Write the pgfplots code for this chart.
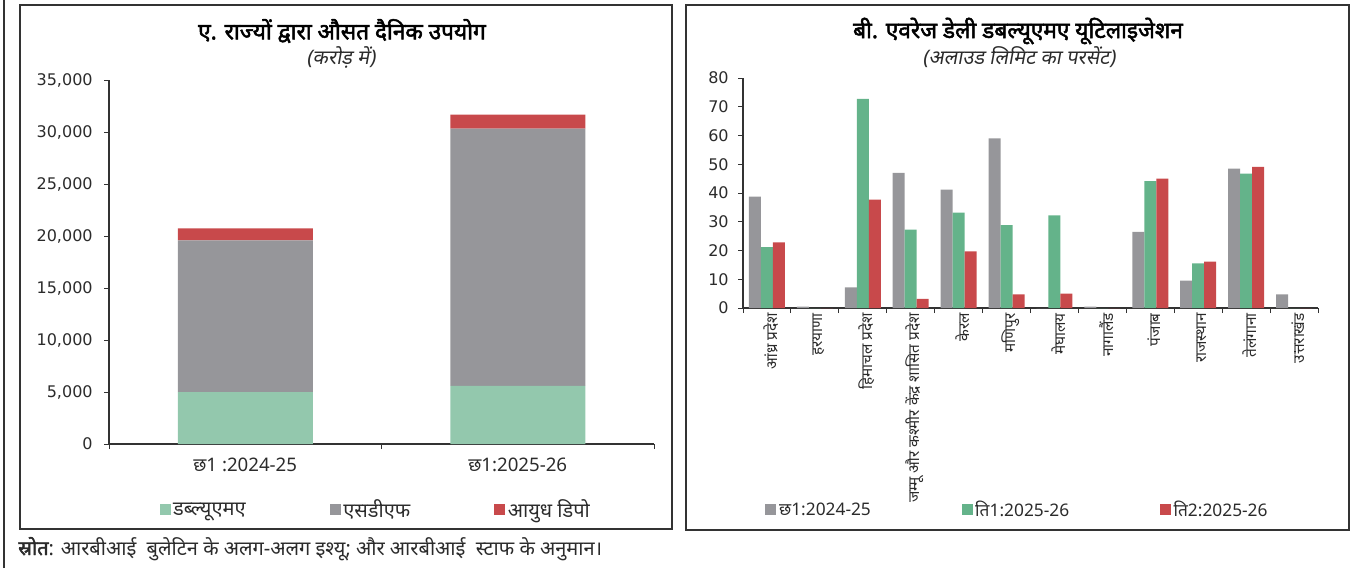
\documentclass[border=0pt]{standalone}
\usepackage{fontspec}
\usepackage{pgfplots}
\usepackage{pgfplotstable}
\pgfplotsset{compat=1.18}
\setmainfont[Script=Devanagari]{Noto Sans}
\newfontfamily\hinbf[Script=Devanagari,FakeBold=2.2]{Noto Sans}
\newfontfamily\hinsl[Script=Devanagari,FakeSlant=0.18]{Noto Sans}
\newfontfamily\dv{DejaVu Sans}

\definecolor{wmaA}{HTML}{93C8AD}
\definecolor{sdf}{HTML}{96969A}
\definecolor{depot}{HTML}{C8494B}
\definecolor{wmaB}{HTML}{64B38A}
\definecolor{rule}{HTML}{333333}
\definecolor{txt}{HTML}{2B2B2B}

% Panel A: average daily usage by states (Rs crore), stacked
\pgfplotstableread{
x    wma   sdf    depot
0.5  4980  14610  1150
1.5  5580  24740  1340
}\usage

% Panel B: average daily WMA utilisation (% of allowed limit)
\pgfplotstableread{
x     h1    q1    q2
0.5   38.7  21.2  22.8
1.5   0.5   0     0
2.5   7.2   72.7  37.7
3.5   47.0  27.3  3.2
4.5   41.2  33.2  19.7
5.5   59.0  28.8  4.7
6.5   0     32.2  5.0
7.5   0.5   0     0
8.5   26.5  44.1  45.0
9.5   9.5   15.5  16.1
10.5  48.5  46.7  49.1
11.5  4.7   0     0
}\util

\pgfplotsset{
  panel/.style={
    scale only axis,
    axis lines=left,
    axis line style={-, rule, line width=1.1pt},
    tick align=outside,
    major tick length=3.75pt,
    tick style={rule, line width=0.7pt},
    ymin=0,
    scaled y ticks=false,
    /pgf/number format/1000 sep={,},
    /pgf/number format/assume math mode=true,
    yticklabel style={font=\dv\fontsize{12}{14}\selectfont, text=txt},
    xticklabels={},
    extra x tick style={tick style={draw=none}},
    legend style={draw=none, fill=none, inner sep=0pt, legend columns=3},
  },
  squares/.style={
    legend image code/.code={\fill[##1,draw=none] (0pt,-4.1pt) rectangle (8.25pt,4.1pt);},
  },
}

\begin{document}
\begin{tikzpicture}[x=0.75pt,y=0.75pt]
\path[use as bounding box] (0,0) rectangle (1353,568);

% panel frames
\draw[rule,line width=1.1pt] (4,0) -- (4,568);
\draw[rule,line width=1.3pt] (20,563) rectangle (672,39);
\draw[rule,line width=1.3pt] (686,563) rectangle (1349,38);

% titles
\node[font=\hinbf\fontsize{17}{19}\selectfont] at (342,537) {ए. राज्यों द्वारा औसत दैनिक उपयोग};
\node[font=\hinsl\fontsize{15}{17}\selectfont, text=txt] at (341,511) {(करोड़ में)};
\node[font=\hinbf\fontsize{17}{19}\selectfont] at (1018,537) {बी. एवरेज डेली डबल्यूएमए यूटिलाइजेशन};
\node[font=\hinsl\fontsize{15}{17}\selectfont, text=txt] at (1019,511) {(अलाउड लिमिट का परसेंट)};

% Panel A
\begin{axis}[panel,
  at={(81.75pt,93pt)}, anchor=south west,
  width=408.75pt, height=273pt,
  xmin=0, xmax=2, ymax=35000,
  ytick distance=5000,
  yticklabel style={xshift=-5pt},
  xtick={0,1,2},
  extra x ticks={0.5,1.5},
  extra x tick labels={छ1 :2024-25, छ1:2025-26},
  extra x tick style={xticklabel style={font=\fontsize{14}{16}\selectfont, text=txt, yshift=-3pt}},
  ybar stacked, bar width=101.25pt,
  squares,
  legend style={at={(0.49,-0.181)}, anchor=center,
    font=\fontsize{15}{17}\selectfont, text=txt,
    /tikz/every even column/.append style={column sep=61pt}},
]
\addplot[fill=wmaA, draw=none] table[x=x,y=wma] {\usage};
\addplot[fill=sdf, draw=none] table[x=x,y=sdf] {\usage};
\addplot[fill=depot, draw=none] table[x=x,y=depot] {\usage};
\legend{डब्ल्यूएमए, एसडीएफ, आयुध डिपो}
\end{axis}

% Panel B
\begin{axis}[panel,
  at={(557.25pt,195pt)}, anchor=south west,
  width=431.25pt, height=172.5pt,
  xmin=0, xmax=12, ymax=80,
  ytick distance=10,
  yticklabel style={xshift=-3.5pt},
  xtick={0,...,12},
  extra x ticks={0.5,1.5,...,11.5},
  extra x tick labels={आंध्र प्रदेश, हरयाणा, हिमाचल प्रदेश, जम्मू और कश्मीर केंद्र शासित प्रदेश, केरल, मणिपुर, मेघालय, नागालैंड, पंजाब, राजस्थान, तेलंगाना, उत्तराखंड},
  extra x tick style={xticklabel style={font=\fontsize{11.5}{13}\selectfont, text=txt, rotate=90, anchor=east, inner sep=0pt, yshift=-3pt}},
  ybar=0pt, bar width=9pt,
  squares,
  legend style={at={(0.478,-0.878)}, anchor=center,
    font=\fontsize{13}{15}\selectfont, text=txt,
    /tikz/every even column/.append style={column sep=66pt}},
]
\addplot[fill=sdf, draw=none] table[x=x,y=h1] {\util};
\addplot[fill=wmaB, draw=none] table[x=x,y=q1] {\util};
\addplot[fill=depot, draw=none] table[x=x,y=q2] {\util};
\legend{छ1:2024-25, ति1:2025-26, ति2:2025-26}
\end{axis}

% source line
\node[anchor=base west, inner sep=0pt, font=\fontsize{15}{17}\selectfont, text=txt] at (18,13)
  {{\hinbf स्रोत}: आरबीआई\ \ बुलेटिन के अलग-अलग इश्यू; और आरबीआई\ \ स्टाफ के अनुमान।};
\end{tikzpicture}
\end{document}
